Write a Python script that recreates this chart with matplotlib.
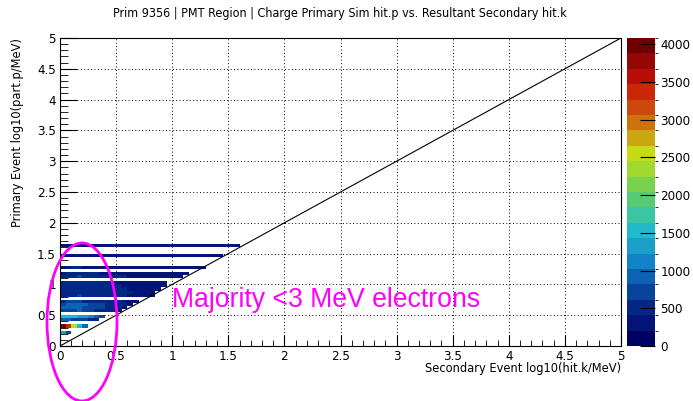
import numpy as np
import matplotlib.pyplot as plt
from matplotlib.colors import LinearSegmentedColormap, BoundaryNorm
from matplotlib.patches import Ellipse
from matplotlib.ticker import MultipleLocator

# lower y-edge of every filled row (log10 primary energy, 0.05 wide bins)
row_y = [0.20, 0.30, 0.40, 0.45, 0.55, 0.60, 0.65, 0.70,
         0.80, 0.85, 0.90, 0.95, 1.00, 1.10, 1.15, 1.25, 1.45, 1.60]

# entries per 0.05 wide x bin, starting at x = 0
row_counts = [
    [1300, 800],
    [3950, 3300, 2450, 1600, 950],
    [900, 820, 760, 700, 640, 560, 500],
    [1550, 1500, 1450, 1380, 1250, 1050, 850, 650],
    [700, 650, 760, 820, 720, 660, 600, 550, 500, 450, 400],
    [850, 900, 960, 860, 800, 760, 700, 620, 560, 500, 450, 400],
    [780, 850, 900, 940, 860, 800, 720, 660, 600, 560, 500, 450, 400],
    [600, 660, 700, 650, 600, 560, 520, 500, 460, 450, 420, 400, 380, 350],
    [560, 520, 600, 640, 560, 520, 500, 480, 460, 450, 440, 420, 400, 400, 380, 360, 350],
    [500, 540, 580, 520, 500, 480, 470, 460, 450, 440, 430, 420, 410, 400, 380, 370, 350],
    [480, 520, 560, 500, 480, 470, 460, 450, 440, 430, 420, 410, 400, 390, 380, 370, 360, 350],
    [460, 500, 520, 480, 470, 460, 450, 440, 430, 420, 410, 400, 390, 380, 370, 360, 350, 340, 330],
    [450, 480, 500, 470, 460, 450, 440, 430, 420, 410, 400, 390, 380, 370, 360, 350, 340, 330, 320],
    [420, 450, 480, 620, 600, 560, 520, 480, 450, 430, 420, 410, 400, 390, 380, 370, 360, 350, 340, 330, 320, 310],
    [400, 430, 460, 440, 430, 420, 410, 400, 390, 380, 370, 360, 350, 340, 330, 320, 310, 300, 300, 290, 280, 280, 270],
    [380, 400, 420, 410, 400, 390, 380, 370, 360, 350, 340, 330, 320, 310, 300, 300, 290, 290, 280, 280, 270, 270, 260, 260, 250, 250],
    [360, 380, 400, 390, 380, 370, 360, 350, 340, 330, 320, 310, 300, 300, 290, 290, 280, 280, 270, 270, 260, 260, 250, 250, 240, 240, 230, 230, 220],
    [350, 370, 390, 380, 370, 360, 350, 340, 330, 320, 310, 300, 300, 290, 290, 280, 280, 270, 270, 260, 260, 250, 250, 240, 240, 230, 230, 220, 220, 210, 210, 210],
]

z_ticks = [0, 500, 1000, 1500, 2000, 2500, 3000, 3500, 4000]
z_max = 4080

bw = 0.05
edges = np.arange(0, 5 + bw / 2, bw)
nb = len(edges) - 1
hist = np.full((nb, nb), np.nan)
for y, counts in zip(row_y, row_counts):
    iy = int(round(y / bw))
    hist[iy, :len(counts)] = counts

# ROOT "rainbow" palette, 20 contour levels
stops = [0, 0.125, 0.25, 0.375, 0.5, 0.625, 0.75, 0.875, 1.0]
red = [0, 5, 15, 35, 102, 196, 208, 199, 110]
green = [0, 48, 124, 192, 206, 226, 97, 16, 0]
blue = [99, 142, 198, 201, 90, 22, 13, 8, 2]
cmap = LinearSegmentedColormap.from_list(
    'rainbow_root',
    [(s, (r / 255, g / 255, b / 255)) for s, r, g, b in zip(stops, red, green, blue)])
levels = np.linspace(0, z_max, 21)
norm = BoundaryNorm(levels, cmap.N)

plt.rcParams['font.family'] = ['DejaVu Sans']
plt.rcParams['font.stretch'] = 'condensed'

fig = plt.figure(figsize=(6.93, 4.01), dpi=100)
ax = fig.add_axes([60 / 693, 55 / 401, 561 / 693, 308 / 401])
cax = fig.add_axes([627 / 693, 55 / 401, 28 / 693, 308 / 401])

ax.set_axisbelow(True)
mesh = ax.pcolormesh(edges, edges, np.ma.masked_invalid(hist), cmap=cmap, norm=norm)
ax.plot([0, 5], [0, 5], color='black', lw=0.8)

ax.set_xlim(0, 5)
ax.set_ylim(0, 5)
ax.xaxis.set_major_locator(MultipleLocator(0.5))
ax.yaxis.set_major_locator(MultipleLocator(0.5))
ax.xaxis.set_minor_locator(MultipleLocator(0.1))
ax.yaxis.set_minor_locator(MultipleLocator(0.1))
ax.tick_params(which='both', direction='in', labelsize=9.5, color='black')
ax.tick_params(axis='x', which='major', length=8, pad=3)
ax.tick_params(axis='x', which='minor', length=4)
ax.tick_params(axis='y', which='major', length=12, pad=3)
ax.tick_params(axis='y', which='minor', length=6)
ax.xaxis.set_major_formatter(plt.FuncFormatter(lambda v, p: f'{v:g}'))
ax.yaxis.set_major_formatter(plt.FuncFormatter(lambda v, p: f'{v:g}'))
ax.grid(True, which='major', color='black', lw=0.7, linestyle=(0, (1, 2.5)))
for s in ax.spines.values():
    s.set_linewidth(0.8)

ax.set_xlabel('Secondary Event log10(hit.k/MeV)', fontsize=9.2, loc='right', labelpad=-1)
ax.set_ylabel('Primary Event log10(part.p/MeV)', fontsize=9.2, loc='top', labelpad=9)

cb = fig.colorbar(mesh, cax=cax, ticks=z_ticks)
cb.outline.set_visible(False)
cb.ax.tick_params(direction='in', length=11, width=0.8, labelsize=9.5, pad=4)
cb.ax.set_ylim(0, z_max)

fig.text(340 / 693, 1 - 14 / 401, 'Prim 9356 | PMT Region | Charge Primary Sim hit.p vs. Resultant Secondary hit.k',
         ha='center', va='center', fontsize=9)

fig.text(172 / 693, 1 - 300 / 401, 'Majority <3 MeV electrons', color='#ff00ff',
         family=['Liberation Sans', 'DejaVu Sans'], stretch='normal', fontsize=19.2, ha='left', va='center')

ell = Ellipse((82 / 693, 1 - 322 / 401), 70 / 693, 158 / 401, transform=fig.transFigure,
              fill=False, edgecolor='#ff00ff', lw=2, clip_on=False, zorder=10)
fig.add_artist(ell)

fig.savefig('out.png', dpi=100)
